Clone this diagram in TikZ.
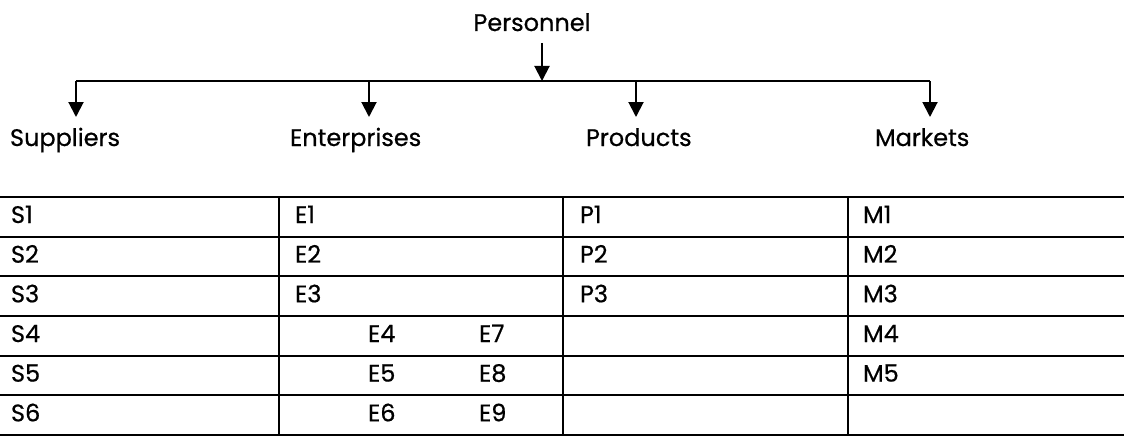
\documentclass[tikz,border=0pt]{standalone}
\usepackage{fontspec}
\setmainfont{Poppins}[FakeBold=0.6]
\usetikzlibrary{arrows.meta}
\begin{document}
\begin{tikzpicture}[x=1pt,y=-1pt,line width=2pt,
  arr/.style={-{Triangle[width=15pt,length=15pt]}},
  lbl/.style={anchor=base west,inner sep=0pt,font=\fontsize{24}{28}\selectfont},
  rule/.style={line width=2.2pt}]
\useasboundingbox (0,0) rectangle (1124,436);
% header
\node[lbl,anchor=base] (pers) at (532,31) {Personnel};
\coordinate (pa) at (542,43);
\coordinate (pb) at (542,81);
\draw[arr] (pa) -- (pb);
\coordinate (jS) at (76,81);
\coordinate (jE) at (369,81);
\coordinate (jP) at (636,81);
\coordinate (jM) at (930,81);
\draw (jS) -- (jM);
\coordinate (tS) at (76,117);
\coordinate (tE) at (369,117);
\coordinate (tP) at (636,117);
\coordinate (tM) at (930,117);
\draw[arr] (jS) -- (tS);
\draw[arr] (jE) -- (tE);
\draw[arr] (jP) -- (tP);
\draw[arr] (jM) -- (tM);
\node[lbl] (sup) at (9,146) {Suppliers};
\node[lbl] (ent) at (289,146) {Enterprises};
\node[lbl] (prd) at (585,146) {Products};
\node[lbl] (mkt) at (874,146) {Markets};
% table
\foreach \r in {0,...,6}{
  \draw[rule] (0,{197+39.67*\r}) -- (1124,{197+39.67*\r});
}
\foreach \c in {279,563,848}{
  \draw[rule] (\c,197) -- (\c,435);
}
\foreach \i in {1,...,6}{
  \node[lbl] (s\i) at (10,{197+39.67*(\i-1)+26}) {S\i};
}
\foreach \i in {1,2,3}{
  \node[lbl] (e\i) at (294,{197+39.67*(\i-1)+26}) {E\i};
  \node[lbl] (p\i) at (579,{197+39.67*(\i-1)+26}) {P\i};
}
\foreach \i/\j [count=\k from 3] in {4/7,5/8,6/9}{
  \node[lbl] (e\i) at (367,{197+39.67*\k+26}) {E\i};
  \node[lbl] (e\j) at (478,{197+39.67*\k+26}) {E\j};
}
\foreach \i in {1,...,5}{
  \node[lbl] (m\i) at (862,{197+39.67*(\i-1)+26}) {M\i};
}
\end{tikzpicture}
\end{document}
